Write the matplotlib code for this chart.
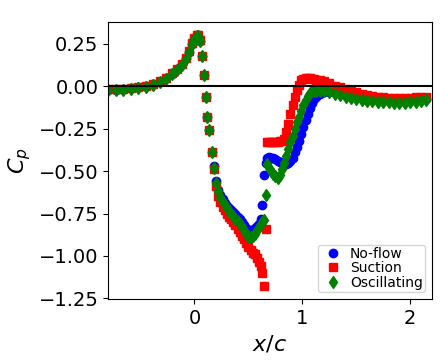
import numpy as np
import matplotlib
matplotlib.use("Agg")
import matplotlib.pyplot as plt

# surface stations (x/c), shared by all three cases
x_c = [-0.80, -0.73, -0.66, -0.59, -0.52, -0.45, -0.38, -0.32, -0.26, -0.21,
       -0.16, -0.12, -0.08, -0.05, -0.02, 0.00, 0.02, 0.035, 0.05,
       0.072, 0.087, 0.105, 0.118, 0.133, 0.165,
       0.18, 0.20, 0.22, 0.24, 0.26, 0.28, 0.30, 0.32, 0.34, 0.36,
       0.38, 0.40, 0.42, 0.44, 0.46, 0.48, 0.50, 0.52, 0.54, 0.56,
       0.58, 0.60, 0.615, 0.63, 0.645,
       0.66, 0.675, 0.69, 0.71, 0.73, 0.75, 0.77, 0.79, 0.81, 0.83,
       0.85, 0.87, 0.89, 0.91, 0.93, 0.95, 0.97, 0.99, 1.01, 1.03,
       1.05, 1.07, 1.09, 1.11, 1.13, 1.16,
       1.20, 1.25, 1.30, 1.35, 1.40, 1.45, 1.50, 1.55, 1.60, 1.65,
       1.70, 1.75, 1.80, 1.85, 1.90, 1.95, 2.00, 2.05, 2.10, 2.15]

cp_noflow = [-0.022, -0.020, -0.017, -0.012, -0.006, 0.000, 0.012, 0.028, 0.048, 0.075,
             0.100, 0.130, 0.165, 0.205, 0.250, 0.280, 0.300, 0.300, 0.270,
             0.180, 0.070, -0.065, -0.180, -0.260, -0.390,
             -0.470, -0.560, -0.610, -0.642, -0.665, -0.685, -0.703, -0.718, -0.730, -0.742,
             -0.755, -0.770, -0.785, -0.802, -0.820, -0.835, -0.845, -0.850, -0.845, -0.835,
             -0.825, -0.810, -0.780, -0.700, -0.520,
             -0.450, -0.420, -0.415, -0.420, -0.425, -0.430, -0.440, -0.445, -0.450, -0.455,
             -0.455, -0.450, -0.440, -0.420, -0.390, -0.360, -0.320, -0.280, -0.240, -0.200,
             -0.165, -0.130, -0.100, -0.075, -0.060, -0.045,
             -0.035, -0.032, -0.035, -0.040, -0.045, -0.052, -0.060, -0.066, -0.072, -0.077,
             -0.080, -0.083, -0.085, -0.087, -0.088, -0.087, -0.085, -0.082, -0.078, -0.074]

cp_suction = [-0.018, -0.016, -0.013, -0.008, -0.002, 0.004, 0.016, 0.032, 0.052, 0.079,
              0.104, 0.134, 0.169, 0.209, 0.254, 0.284, 0.305, 0.305, 0.275,
              0.180, 0.070, -0.065, -0.180, -0.260, -0.390,
              -0.490, -0.590, -0.645, -0.680, -0.710, -0.730, -0.750, -0.770, -0.785, -0.800,
              -0.820, -0.840, -0.860, -0.880, -0.900, -0.925, -0.945, -0.965, -0.980, -0.990,
              -1.010, -1.035, -1.060, -1.100, -1.180,
              -0.840, -0.330, -0.330, -0.330, -0.330, -0.330, -0.330, -0.325, -0.320, -0.310,
              -0.270, -0.220, -0.160, -0.110, -0.060, -0.020, 0.010, 0.035, 0.045, 0.050,
              0.050, 0.048, 0.045, 0.042, 0.040, 0.035,
              0.030, 0.020, 0.005, -0.005, -0.015, -0.025, -0.035, -0.045, -0.050, -0.055,
              -0.060, -0.065, -0.068, -0.070, -0.070, -0.070, -0.068, -0.065, -0.062, -0.060]

cp_oscillating = [-0.024, -0.022, -0.019, -0.014, -0.008, -0.002, 0.010, 0.026, 0.046, 0.073,
                  0.098, 0.128, 0.163, 0.203, 0.248, 0.278, 0.298, 0.298, 0.268,
                  0.180, 0.070, -0.065, -0.180, -0.260, -0.390,
                  -0.480, -0.570, -0.620, -0.655, -0.680, -0.700, -0.720, -0.735, -0.750, -0.765,
                  -0.780, -0.795, -0.810, -0.830, -0.850, -0.870, -0.885, -0.890, -0.885, -0.870,
                  -0.850, -0.830, -0.810, -0.800, -0.790,
                  -0.640, -0.460, -0.480, -0.500, -0.515, -0.530, -0.540, -0.520, -0.490, -0.450,
                  -0.410, -0.370, -0.330, -0.290, -0.250, -0.210, -0.180, -0.145, -0.110, -0.080,
                  -0.055, -0.040, -0.030, -0.025, -0.025, -0.025,
                  -0.030, -0.035, -0.045, -0.050, -0.060, -0.068, -0.075, -0.080, -0.085, -0.088,
                  -0.090, -0.093, -0.095, -0.097, -0.097, -0.096, -0.094, -0.090, -0.085, -0.078]

fig = plt.figure(figsize=(4.47, 3.62), dpi=100)
ax = fig.add_axes([0.242, 0.174, 0.724, 0.765])

ax.plot(x_c, cp_noflow, 'o', color='blue', label='No-flow')
ax.plot(x_c, cp_suction, 's', color='red', label='Suction')
ax.plot(x_c, cp_oscillating, 'd', color='green', label='Oscillating')
ax.axhline(0, color='black', lw=1.5)

ax.set_xlim(-0.8, 2.2)
ax.set_xlabel('$x/c$', fontsize=16)
ax.set_ylabel('$C_p$', fontsize=16)
ax.tick_params(labelsize=14)
ax.legend(loc='lower right', fontsize=10, borderpad=0.15, labelspacing=0.05,
          handlelength=1.8, handletextpad=0.35)

fig.savefig('out.png', dpi=100)
